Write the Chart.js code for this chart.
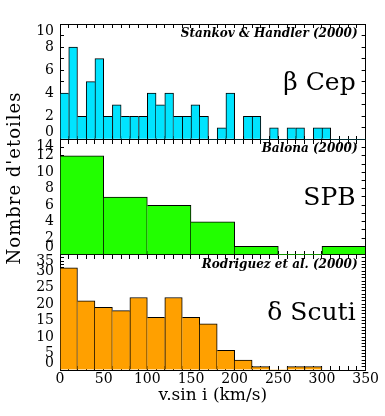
<!DOCTYPE html>
<html><head><meta charset="utf-8">
<script src="https://cdn.jsdelivr.net/npm/chart.js@4/dist/chart.umd.min.js"></script>
<style>html,body{margin:0;padding:0;background:#fff;}</style>
</head><body>
<canvas id="c" width="385" height="416"></canvas>
<script>
// ---- data ----
const betaCepBins = [0,10,20,30,40,50,60,70,80,90,100,110,120,130,140,150,160,170,180,190,200,210,220,230,240,250,260,270,280,290,300,310,320,330,340];
const betaCepCounts = [4,8,2,5,7,2,3,2,2,2,4,3,4,2,2,3,2,0,1,4,0,2,2,0,1,0,1,1,0,1,1,0,0,0,0];
const spbBins = [0,50,100,150,200,250,300];
const spbCounts = [12,7,6,4,1,0,1];
const deltaScutiBins = [0,20,40,60,80,100,120,140,160,180,200,220,240,260,280];
const deltaScutiCounts = [31,21,19,18,22,16,22,16,14,6,3,1,0,1,1];
const xMajorTicks = [0,50,100,150,200,250,300,350];
const betaCepYTicks = [0,2,4,6,8,10];
const spbYTicks = [0,2,4,6,8,10,12,14];
const deltaScutiYTicks = [0,5,10,15,20,25,30,35];
const panelNames = ['β Cep','SPB','δ Scuti'];
const panelRefs = ['Stankov & Handler (2000)','Balona (2000)','Rodriguez et al. (2000)'];
const yTitle = "Nombre d'etoiles";
const xTitle = 'v.sin i (km/s)';

const SERIF = '"DejaVu Serif", serif';
const tickFont = {family: SERIF, size: 14, lineHeight: 1.0};

function toPoints(bins, counts){
  const w = bins[1] - bins[0];
  return counts.map((c,i) => ({x: bins[i] + w/2, y: c}));
}
function edgeWidths(ctx){
  const d = ctx.dataset.data, i = ctx.dataIndex;
  if (!d[i]) return 0;
  const cur = d[i].y;
  if (!cur) return 0;
  const prev = i > 0 ? d[i-1].y : 0;
  const next = i < d.length-1 ? d[i+1].y : 0;
  return {top: 1, bottom: 0, left: prev <= cur ? 1 : 0, right: next < cur ? 1 : 0};
}
function dataset(label, bins, counts, color, xId, yId){
  return {label, data: toPoints(bins, counts), backgroundColor: color, borderColor: '#000',
    borderWidth: edgeWidths, borderSkipped: false, barPercentage: 1, categoryPercentage: 1,
    grouped: false, xAxisID: xId, yAxisID: yId};
}
function leftAxis(ticksArr, weight){
  const max = ticksArr[ticksArr.length-1];
  return {type:'linear', axis:'y', position:'left', stack:'L', stackWeight:1, weight, min:0, max, z:1,
    afterFit(s){ s.width = 60; },
    border:{display:true, color:'#000', width:1},
    grid:{drawOnChartArea:true, color: c => (c.tick && c.tick.value === 0) ? '#000' : 'rgba(0,0,0,0)',
      tickColor:'#000', tickLength:-4, lineWidth:1},
    ticks:{stepSize:1, autoSkip:false, color:'#000', font:tickFont, padding:10,
      callback(v){
        if (!ticksArr.includes(v)) return '';
        if (v === max) return ['', String(v)];
        if (v === 0) return [String(v), ''];
        return String(v);
      }}
  };
}
function rightAxis(max, weight){
  return {type:'linear', axis:'y', position:'right', stack:'R', stackWeight:1, weight, min:0, max, z:1,
    afterFit(s){ s.width = 0; },
    border:{display:true, color:'#000', width:1},
    grid:{drawOnChartArea:false, tickColor:'#000', tickLength:-4},
    ticks:{stepSize:1, autoSkip:false, display:false}
  };
}
function hiddenX(){
  return {type:'linear', axis:'x', display:false, min:0, max:350, offset:false, ticks:{stepSize:50}};
}
function tickX(position, len){
  return {type:'linear', axis:'x', position, min:0, max:350, offset:false, z:1,
    afterFit(s){ s.height = 0; },
    border:{display:true, color:'#000', width:1},
    grid:{drawOnChartArea:false, tickColor:'#000', tickLength:len, offset:false},
    ticks:{stepSize:10, autoSkip:false, display:false}
  };
}

const annot = {
  id:'annot',
  afterDraw(chart){
    const {ctx, chartArea} = chart;
    const ids = ['ytop','ymid','ybot'];
    ctx.save();
    ctx.fillStyle = '#000';
    ctx.textAlign = 'right';
    ctx.textBaseline = 'middle';
    ids.forEach((id,k) => {
      const s = chart.scales[id];
      ctx.font = 'italic bold 12px ' + SERIF;
      ctx.fillText(panelRefs[k], chartArea.right - 8, s.top + 10);
      ctx.font = '25px ' + SERIF;
      ctx.fillText(panelNames[k], chartArea.right - 10, s.top + 59);
    });
    ctx.translate(15, 178);
    ctx.rotate(-Math.PI/2);
    ctx.textAlign = 'center';
    ctx.font = '18px ' + SERIF;
    ctx.letterSpacing = '1px';
    ctx.fillText(yTitle, 0, 0);
    ctx.restore();
  }
};

new Chart(document.getElementById('c'), {
  type:'bar',
  data:{datasets:[
    dataset('β Cep', betaCepBins, betaCepCounts, '#00E4FF', 'xc', 'ytop'),
    dataset('SPB', spbBins, spbCounts, '#22FF00', 'xm', 'ymid'),
    dataset('δ Scuti', deltaScutiBins, deltaScutiCounts, '#FFA000', 'xd', 'ybot')
  ]},
  options:{
    responsive:false, animation:false,
    layout:{padding:{top:8, right:17, left:0, bottom:0}},
    plugins:{legend:{display:false}, tooltip:{enabled:false}},
    scales:{
      xc: hiddenX(), xm: hiddenX(), xd: hiddenX(),
      x: {type:'linear', axis:'x', position:'bottom', min:0, max:350, offset:false, z:1,
        afterFit(s){ s.height = 46; },
        border:{display:true, color:'#000', width:1},
        grid:{drawOnChartArea:false, tickColor:'#000', tickLength:-4, offset:false},
        ticks:{stepSize:10, autoSkip:false, maxRotation:0, minRotation:0, color:'#000', font:tickFont, padding:6,
          callback(v){ return xMajorTicks.includes(v) ? String(v) : ''; }},
        title:{display:true, text:xTitle, color:'#000', font:{family:SERIF, size:17}, padding:{top:0, bottom:10}}
      },
      xtop: tickX('top', -4),
      xb1: tickX({ytop:0}, -4),
      xt2: tickX({ymid:14}, 4),
      xb2: tickX({ymid:0}, -4),
      xt3: tickX({ybot:35}, 4),
      ytop: leftAxis(betaCepYTicks, 3),
      ymid: leftAxis(spbYTicks, 2),
      ybot: leftAxis(deltaScutiYTicks, 1),
      yr1: rightAxis(10, 1),
      yr2: rightAxis(14, 2),
      yr3: rightAxis(35, 3)
    }
  },
  plugins:[annot]
});
</script>
</body></html>
